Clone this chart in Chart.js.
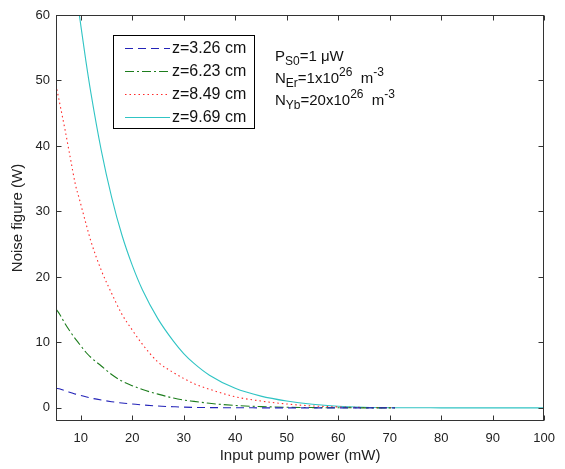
<!DOCTYPE html>
<html>
<head>
<meta charset="utf-8">
<script src="https://cdn.jsdelivr.net/npm/chart.js@4.4.1/dist/chart.umd.min.js"></script>
<style>
  html, body { margin: 0; padding: 0; background: #fff; }
  #wrap { width: 565px; height: 469px; }
</style>
</head>
<body>
<div id="wrap"><canvas id="nfChart" width="565" height="469"></canvas></div>
<script>
// Input pump power (mW) sample positions
const pumpPower = [5.2, 6, 7, 8, 9, 9.7, 11, 12, 14, 16, 18, 20, 22, 25, 28, 30, 32, 35, 40, 45, 50, 55, 60, 65, 71, 80, 90, 100];

// Noise figure for each fibre length
const nf326 = [3.0, 2.9, 2.6, 2.35, 2.1, 1.95, 1.7, 1.5, 1.2, 0.95, 0.75, 0.6, 0.45, 0.28, 0.18, 0.12, 0.08, 0.05, 0.02, 0.01, 0, 0, 0, 0, 0, null, null, null];
const nf623 = [15.1, 14.2, 12.8, 11.6, 10.5, 9.8, 8.5, 7.7, 6.4, 5.1, 4.1, 3.4, 2.8, 2.1, 1.5, 1.2, 1.0, 0.7, 0.37, 0.2, 0.1, 0.05, 0.02, 0.01, 0, null, null, null];
const nf849 = [49.3, 46.2, 42.3, 38.1, 34.0, 32.0, 28.2, 25.4, 21.0, 17.5, 14.3, 11.9, 9.7, 7.0, 5.4, 4.5, 3.7, 2.85, 1.7, 1.05, 0.6, 0.3, 0.15, 0.07, 0.03, null, null, null];
const nf969 = [null, null, null, null, null, 60.2, 53.0, 48.0, 39.3, 32.2, 26.4, 21.8, 18.0, 13.6, 10.2, 8.3, 6.8, 5.0, 3.0, 1.8, 1.05, 0.55, 0.25, 0.1, 0.03, 0.01, 0, 0];

const seriesLabels = ['z=3.26 cm', 'z=6.23 cm', 'z=8.49 cm', 'z=9.69 cm'];
const xTicks = [10, 20, 30, 40, 50, 60, 70, 80, 90, 100];
const yTicks = [0, 10, 20, 30, 40, 50, 60];

const FONT = "'Liberation Sans', Arial, sans-serif";

function toPoints(vals) {
  return pumpPower.map((x, i) => ({ x: x, y: vals[i] }));
}

function lineSet(label, vals, color, dash) {
  return {
    label: label,
    data: toPoints(vals),
    borderColor: color,
    backgroundColor: color,
    borderWidth: 1.1,
    borderDash: dash,
    pointRadius: 0,
    cubicInterpolationMode: 'monotone',
    fill: false
  };
}

// box around the axes, inward ticks, legend and parameter text (MATLAB look)
const matlabBox = {
  id: 'matlabBox',
  afterDatasetsDraw(chart) {
    const ctx = chart.ctx;
    const a = chart.chartArea;
    const xs = chart.scales.x, ys = chart.scales.y;
    const L = Math.round(a.left) + 0.5, R = Math.round(a.right) - 0.5;
    const T = Math.round(a.top) + 0.5, B = Math.round(a.bottom) - 0.5;
    const tl = 5;

    ctx.save();
    ctx.strokeStyle = '#333';
    ctx.lineWidth = 1;
    ctx.setLineDash([]);
    ctx.strokeRect(L, T, R - L, B - T);

    ctx.beginPath();
    xTicks.forEach(v => {
      const px = Math.round(xs.getPixelForValue(v)) + 0.5;
      ctx.moveTo(px, B); ctx.lineTo(px, B - tl);
      ctx.moveTo(px, T); ctx.lineTo(px, T + tl);
    });
    yTicks.forEach(v => {
      const py = Math.round(ys.getPixelForValue(v)) + 0.5;
      ctx.moveTo(L, py); ctx.lineTo(L + tl, py);
      ctx.moveTo(R, py); ctx.lineTo(R - tl, py);
    });
    ctx.stroke();

    // legend
    const bx = 113.5, by = 35.5, bw = 141, bh = 93;
    ctx.fillStyle = '#fff';
    ctx.fillRect(bx, by, bw, bh);
    ctx.strokeStyle = '#000';
    ctx.strokeRect(bx, by, bw, bh);
    const rowY = [48, 71, 94, 117];
    ctx.font = '16px ' + FONT;
    ctx.textBaseline = 'middle';
    chart.data.datasets.forEach((ds, i) => {
      const y = rowY[i] + 0.5;
      ctx.strokeStyle = ds.borderColor;
      ctx.lineWidth = 1.1;
      ctx.setLineDash(ds.borderDash || []);
      ctx.beginPath();
      ctx.moveTo(125, y); ctx.lineTo(170, y);
      ctx.stroke();
      ctx.setLineDash([]);
      ctx.fillStyle = '#111';
      ctx.fillText(ds.label, 172, rowY[i] + 1);
    });

    // parameter text with sub/superscripts
    ctx.textBaseline = 'alphabetic';
    const params = [
      [['P', 'n'], ['S0', 'sub'], ['=1 \u03bcW', 'n']],
      [['N', 'n'], ['Er', 'sub'], ['=1x10', 'n'], ['26', 'sup'], ['  m', 'n'], ['-3', 'sup']],
      [['N', 'n'], ['Yb', 'sub'], ['=20x10', 'n'], ['26', 'sup'], ['  m', 'n'], ['-3', 'sup']]
    ];
    const baseY = [61, 83, 105];
    params.forEach((parts, r) => {
      let x = 275;
      parts.forEach(([txt, kind]) => {
        let dy = 0;
        if (kind === 'n') ctx.font = '15px ' + FONT;
        else { ctx.font = '12px ' + FONT; dy = kind === 'sub' ? 4 : -7; }
        ctx.fillText(txt, x, baseY[r] + dy);
        x += ctx.measureText(txt).width;
      });
    });
    ctx.restore();
  }
};

const ctx = document.getElementById('nfChart').getContext('2d');
new Chart(ctx, {
  type: 'line',
  data: {
    datasets: [
      lineSet(seriesLabels[0], nf326, '#2323b8', [8, 5]),
      lineSet(seriesLabels[1], nf623, '#1d7d1d', [9, 3, 2, 3]),
      lineSet(seriesLabels[2], nf849, '#ff2a2a', [1.5, 3]),
      lineSet(seriesLabels[3], nf969, '#30c4c4', [])
    ]
  },
  options: {
    responsive: false,
    animation: false,
    layout: { padding: { top: 15, right: 13, left: 0, bottom: 0 } },
    plugins: {
      legend: { display: false },
      tooltip: { enabled: false }
    },
    scales: {
      x: {
        type: 'linear',
        min: 5.2,
        max: 100,
        afterBuildTicks: s => { s.ticks = xTicks.map(v => ({ value: v })); },
        afterFit: s => { s.height = 48; },
        grid: { display: false, drawTicks: false },
        border: { display: false },
        ticks: { color: '#222', padding: 10, font: { family: FONT, size: 13 }, maxRotation: 0 },
        title: { display: true, text: 'Input pump power (mW)', color: '#222', padding: { top: 0 }, font: { family: FONT, size: 15 } }
      },
      y: {
        min: -2,
        max: 60,
        afterBuildTicks: s => { s.ticks = yTicks.map(v => ({ value: v })); },
        afterFit: s => { s.width = 56; },
        grid: { display: false, drawTicks: false },
        border: { display: false },
        ticks: { color: '#222', padding: 6, font: { family: FONT, size: 13 } },
        title: { display: true, text: 'Noise figure (W)', color: '#222', padding: { top: 9 }, font: { family: FONT, size: 15 } }
      }
    }
  },
  plugins: [matlabBox]
});
</script>
</body>
</html>
